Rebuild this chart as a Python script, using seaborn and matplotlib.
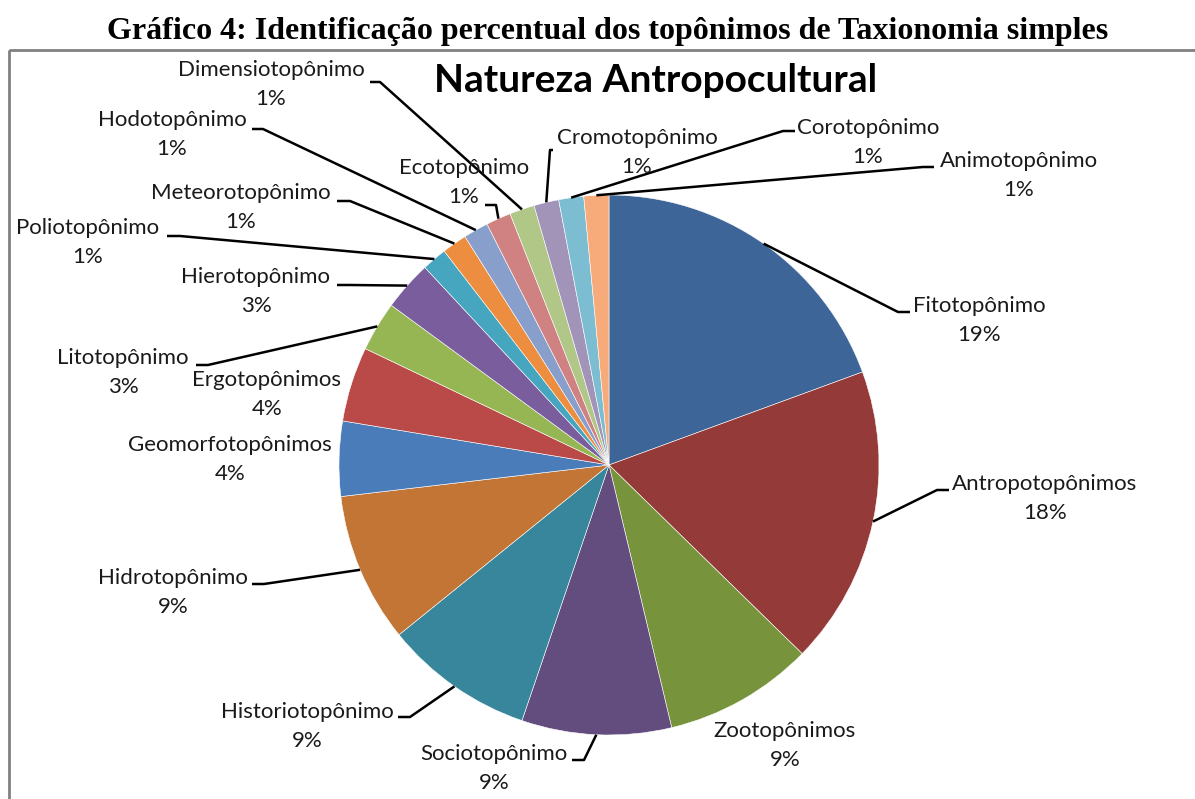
import numpy as np
import matplotlib.pyplot as plt
import seaborn as sns
from matplotlib.patches import Rectangle

# data: counts per toponym class (shown as rounded percentages)
names = ['Fitotopônimo', 'Antropotopônimos', 'Zootopônimos', 'Sociotopônimo',
         'Historiotopônimo', 'Hidrotopônimo', 'Geomorfotopônimos', 'Ergotopônimos',
         'Litotopônimo', 'Hierotopônimo', 'Poliotopônimo', 'Meteorotopônimo',
         'Hodotopônimo', 'Ecotopônimo', 'Dimensiotopônimo', 'Cromotopônimo',
         'Corotopônimo', 'Animotopônimo']
counts = [13, 12, 6, 6, 6, 6, 3, 3, 2, 2, 1, 1, 1, 1, 1, 1, 1, 1]
colors = ['#3D6598', '#943A39', '#77933C', '#634C7E', '#38869B', '#C27535',
          '#4A7CBA', '#B94A47', '#96B654', '#7A5D9D', '#46A6BF', '#EC8D40',
          '#879FCA', '#CF8281', '#B0C788', '#A294B8', '#7DBDD2', '#F7AA7A']

# layout, in pixels from the top-left corner
label_xy = [(979, 306), (1045, 484), (785, 731), (494, 754), (307, 712), (173, 578),
            (230, 445), (267, 380), (123, 358), (256, 277), (88, 228), (241, 193),
            (172, 120), (464, 168), (271, 70), (637, 138), (868, 128), (1019, 161)]
# (x at text, x at elbow, y) of the short horizontal piece of the leader line
stubs = [(910, 898, 312), (949, 937, 490), None, (572, 584, 760), (398, 410, 717),
         (252, 264, 584), None, None, (196, 208, 365), (337, 350, 285),
         (167, 180, 236), (337, 350, 201), (252, 263, 129), (485, 496, 205),
         (370, 380, 82), (553, 550, 150), (795, 783, 131), (934, 923, 167)]

sns.set_theme(style='white')
plt.rcParams['font.family'] = ['Lato', 'DejaVu Sans']

W, H = 1195, 799
cx, cy, r = 609, 465, 270

fig = plt.figure(figsize=(W / 100, H / 100), dpi=100)
ax = fig.add_axes([0, 0, 1, 1])

# y axis points down, so counterclock=True here draws clockwise on screen
wedges, _ = ax.pie(counts, colors=colors, startangle=-90, counterclock=True,
                   center=(cx, cy), radius=r,
                   wedgeprops=dict(edgecolor='white', linewidth=0.4))
ax.set_xlim(0, W)
ax.set_ylim(H, 0)
ax.set_aspect('auto')
ax.axis('off')

total = sum(counts)
for w, name, n, (tx, ty), st in zip(wedges, names, counts, label_xy, stubs):
    pct = round(100 * n / total)
    ax.text(tx, ty, name, ha='center', va='center', fontsize=16, color='#1a1a1a')
    ax.text(tx, ty + 29, f'{pct}%', ha='center', va='center', fontsize=16,
            color='#1a1a1a')
    if st is not None:
        mid = np.deg2rad((w.theta1 + w.theta2) / 2)
        px, py = cx + r * np.cos(mid), cy + r * np.sin(mid)
        ax.plot([px, st[1], st[0]], [py, st[2], st[2]], color='black', lw=1.8,
                solid_capstyle='butt')

ax.text(656, 80, 'Natureza Antropocultural', ha='center', va='center',
        fontsize=28, fontweight='bold', color='black')

ax.add_patch(Rectangle((9, 50), 1300, 900, fill=False, edgecolor='#808080', lw=2))

fig.text(608 / W, 1 - 32 / H,
         'Gráfico 4: Identificação percentual dos topônimos de Taxionomia simples',
         ha='center', va='center', fontsize=23, fontweight='bold',
         family='Liberation Serif', color='black')

fig.savefig('out.png', dpi=100)
